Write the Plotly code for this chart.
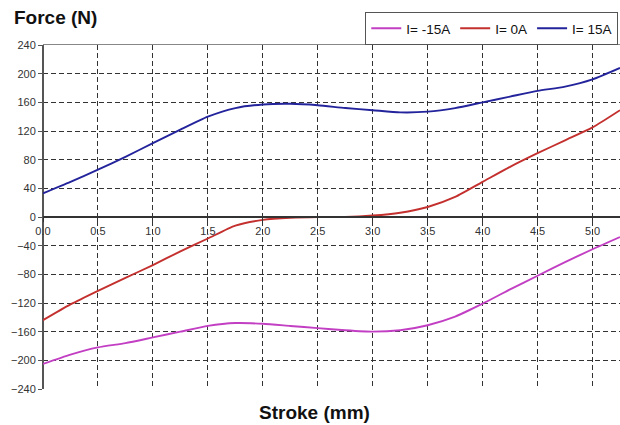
import plotly.graph_objects as go

stroke = [0.0, 0.25, 0.5, 0.75, 1.0, 1.25, 1.5, 1.75, 2.0, 2.25, 2.5, 2.75, 3.0, 3.25, 3.5, 3.75, 4.0, 4.25, 4.5, 4.75, 5.0, 5.25]
force_m15 = [-205, -192, -182, -176, -168, -160, -152, -148, -149, -152, -155, -158, -160, -158, -151, -139, -121, -101, -82, -63, -45, -28]
force_0 = [-144, -122, -103, -85, -67, -48, -30, -12, -4, -1, 0, 0, 2, 6, 14, 28, 49, 70, 89, 107, 125, 149]
force_15 = [33, 49, 66, 84, 103, 122, 140, 152, 157, 158, 156, 152, 149, 146, 147, 152, 160, 168, 176, 182, 192, 208]

series_names = ["I= -15A", "I= 0A", "I= 15A"]
series_colors = ["#C23FC4", "#C3302E", "#23239C"]

x_ticks = [0.0, 0.5, 1.0, 1.5, 2.0, 2.5, 3.0, 3.5, 4.0, 4.5, 5.0]
y_ticks = [-240, -200, -160, -120, -80, -40, 0, 40, 80, 120, 160, 200, 240]

fig = go.Figure()
for name, ys, col in zip(series_names, [force_m15, force_0, force_15], series_colors):
    fig.add_trace(go.Scatter(x=stroke, y=ys, name=name, mode="lines",
                             line=dict(color=col, width=1.9, shape="spline", smoothing=0.6)))

# top border line via overlaying axis
fig.add_trace(go.Scatter(x=[None], y=[None], xaxis="x2", showlegend=False))

font_main = "Liberation Sans, Arial, sans-serif"

fig.update_layout(
    width=620, height=425,
    margin=dict(l=43, r=0, t=45, b=36, autoexpand=False),
    paper_bgcolor="white", plot_bgcolor="white",
    font=dict(family=font_main, color="#222"),
    showlegend=True,
    legend=dict(orientation="h", x=0.997, xanchor="right", y=1.0, yanchor="bottom",
                bordercolor="#555", borderwidth=1, bgcolor="white",
                font=dict(size=13.5, color="#111", family=font_main),
                itemwidth=30, tracegroupgap=0),
    xaxis=dict(range=[0, 5.25], tickvals=x_ticks, ticktext=[f"{v:.1f}" for v in x_ticks],
               anchor="free", position=0.5,
               showgrid=True, gridcolor="#333", griddash="5px,3px", gridwidth=1,
               showline=True, linecolor="#333", linewidth=1.5,
               ticks="outside", ticklen=4, tickcolor="#333",
               zeroline=True, zerolinecolor="#555", zerolinewidth=1.5,
               tickfont=dict(size=11, color="#333")),
    xaxis2=dict(range=[0, 5.25], overlaying="x", side="top", showline=True,
                linecolor="#888", linewidth=1, showticklabels=False, ticks="",
                showgrid=False, zeroline=False),
    yaxis=dict(range=[-240, 240], tickvals=y_ticks,
               showgrid=True, gridcolor="#333", griddash="5px,3px", gridwidth=1,
               showline=False, ticks="outside", ticklen=4, tickcolor="#555",
               zeroline=True, zerolinecolor="#333", zerolinewidth=1.5,
               tickfont=dict(size=11, color="#333")),
    annotations=[
        dict(text="<b>Force (N)</b>", xref="paper", yref="paper", x=-0.053, y=1.08,
             xanchor="left", yanchor="middle", showarrow=False,
             font=dict(size=19, color="#111", family=font_main)),
        dict(text="<b>Stroke (mm)</b>", xref="paper", yref="paper", x=0.47, y=-0.069,
             xanchor="center", yanchor="middle", showarrow=False,
             font=dict(size=19, color="#111", family=font_main)),
    ],
)

fig.write_html("out.html", config={"displayModeBar": False},
               post_script="document.body.style.margin='0px';document.body.style.overflow='hidden';")
